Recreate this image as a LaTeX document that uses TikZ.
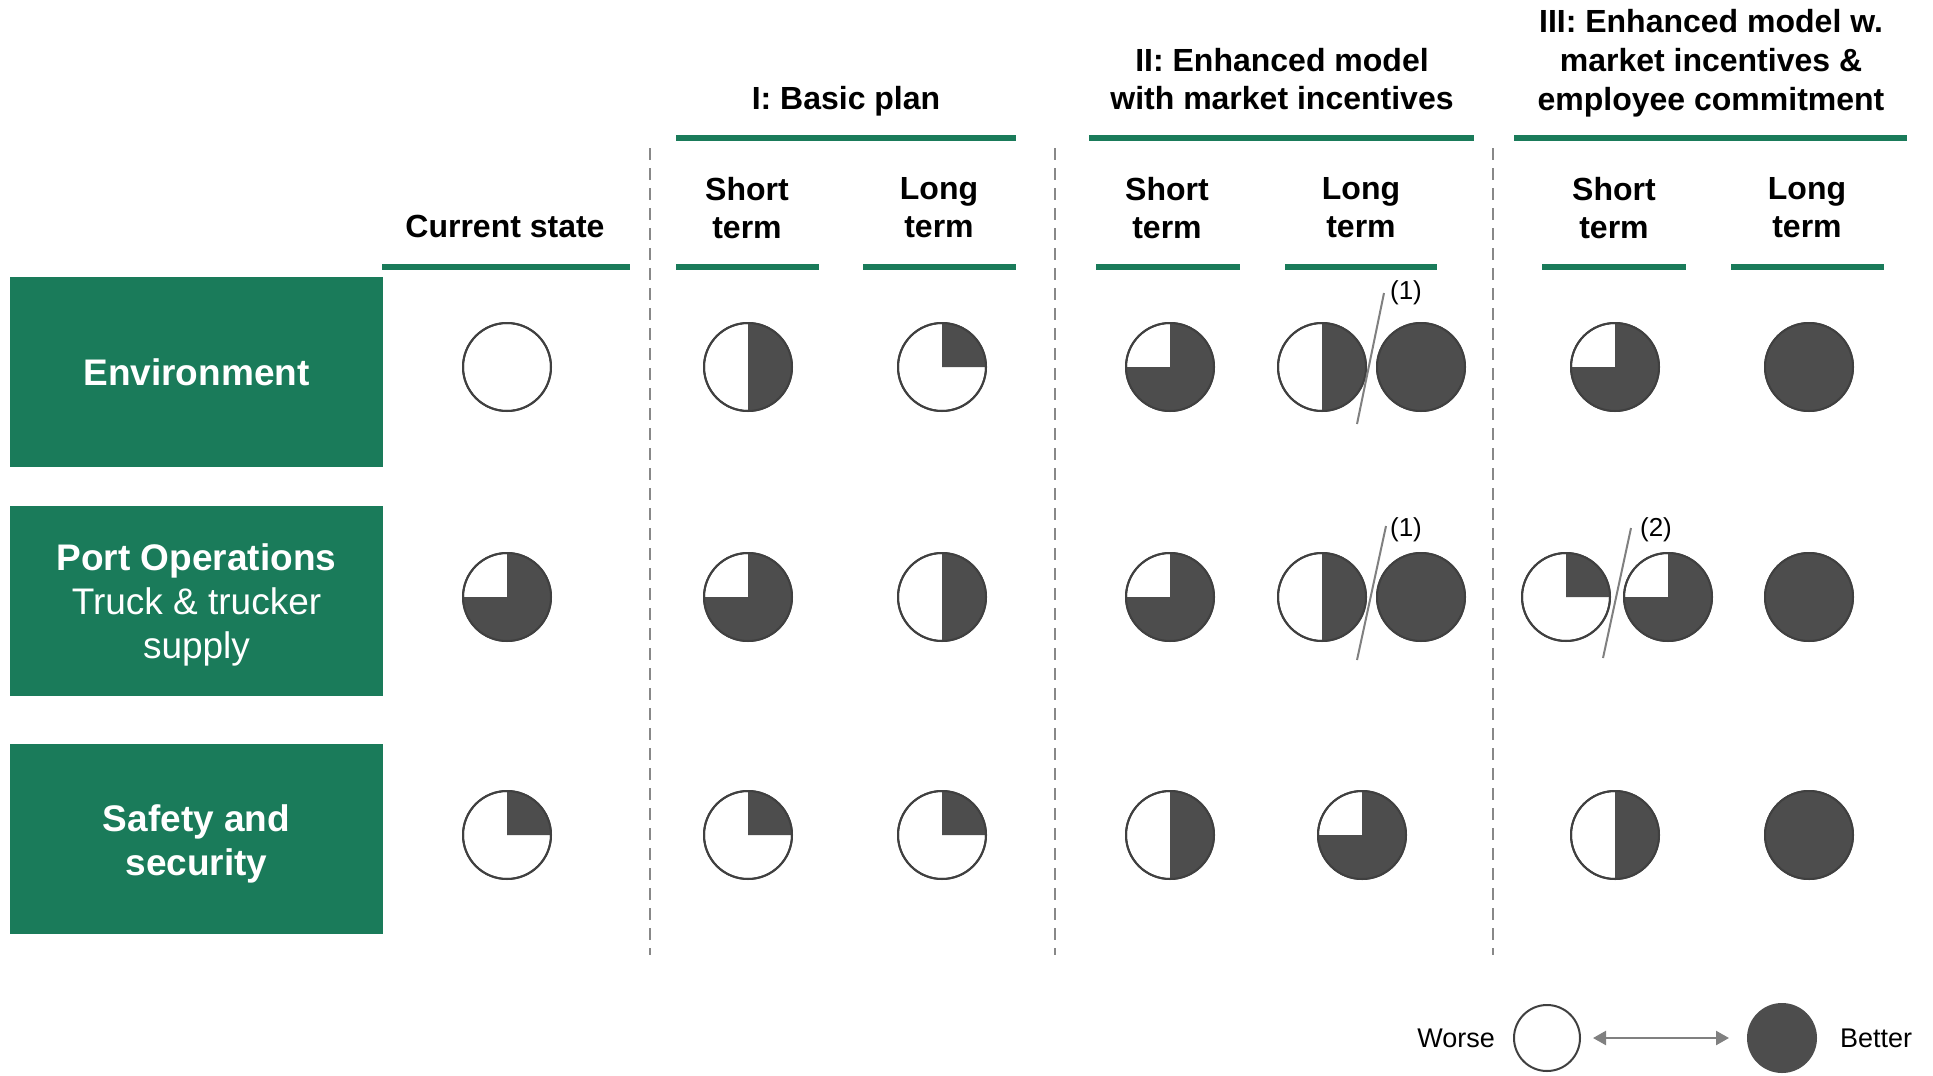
\documentclass[tikz,border=0pt]{standalone}
\usepackage{fontspec}
\setmainfont{Liberation Sans}
\usetikzlibrary{arrows.meta}
\definecolor{brandgreen}{RGB}{26,123,90}
\definecolor{piedark}{RGB}{77,77,77}
\definecolor{pieedge}{RGB}{64,64,64}
\definecolor{dashgray}{RGB}{136,136,136}
\definecolor{arrowgray}{RGB}{128,128,128}

\newcommand{\PieCell}[4]{%
  \node[pienode] (#1) at (#2,-#3) {};
  \ifnum#4>0
    \ifnum#4<360
      \fill[piedark] (#1.center) -- ++(0pt,22pt) arc[start angle=90, end angle=90-#4, radius=22pt] -- cycle;
    \else
      \fill[piedark] (#1.center) circle[radius=22pt];
    \fi
  \fi
  \draw[pieedge, line width=1pt] (#1.center) circle[radius=22pt];
}

\begin{document}
\begin{tikzpicture}[x=0.5pt,y=0.5pt,
  pienode/.style={circle, minimum size=44pt, inner sep=0pt, fill=white, draw=pieedge, line width=1pt},
  rowbox/.style={fill=brandgreen, minimum width=186.5pt, minimum height=95pt, inner sep=0pt, text=white, align=center, font=\fontsize{18.5pt}{22pt}\selectfont},
  hdr/.style={align=center, inner sep=0pt, font=\fontsize{16pt}{19pt}\selectfont\bfseries},
  gline/.style={brandgreen, line width=3pt},
  sep/.style={dashgray, line width=1pt, dash pattern=on 6pt off 4pt},
  slash/.style={arrowgray, line width=1pt},
  note/.style={inner sep=0pt, font=\fontsize{13pt}{15pt}\selectfont},
  legtext/.style={inner sep=0pt, font=\fontsize{13.5pt}{16pt}\selectfont}]
\useasboundingbox (0,0) rectangle (1933,-1076);

% row labels
\node[rowbox] (env) at (196.5,-372) {\bfseries Environment};
\node[rowbox] (port) at (196.5,-601) {};
\node[text=white, align=center, inner sep=0pt, font=\fontsize{18.5pt}{22pt}\selectfont] (portlbl) at (196.5,-605) {{\bfseries Port Operations}\\Truck \& trucker\\supply};
\node[rowbox] (safe) at (196.5,-839) {};
\node[text=white, align=center, inner sep=0pt, font=\fontsize{18.5pt}{22pt}\selectfont\bfseries] (safelbl) at (196.5,-844) {Safety and\\security};

% group headers
\node[hdr] (hI) at (846,-101.5) {I: Basic plan};
\node[hdr] (hII) at (1282,-79.5) {II: Enhanced model\\with market incentives};
\node[hdr, font=\fontsize{16pt}{19.4pt}\selectfont\bfseries] (hIII) at (1711,-63) {III: Enhanced model w.\\market incentives \&\\employee commitment};

% column headers
\node[hdr] (cs) at (505,-226) {Current state};
\node[hdr] (iS) at (747,-208) {Short\\term};
\node[hdr] (iL) at (939,-208) {Long\\term};
\node[hdr] (iiS) at (1167,-208) {Short\\term};
\node[hdr] (iiL) at (1361,-208) {Long\\term};
\node[hdr] (iiiS) at (1614,-208) {Short\\term};
\node[hdr] (iiiL) at (1807,-208) {Long\\term};

% green rules
\draw[gline] (676,-138) -- (1016,-138);
\draw[gline] (1089,-138) -- (1474,-138);
\draw[gline] (1514,-138) -- (1907,-138);
\draw[gline] (382,-267) -- (630,-267);
\draw[gline] (676,-267) -- (819,-267);
\draw[gline] (863,-267) -- (1016,-267);
\draw[gline] (1096,-267) -- (1240,-267);
\draw[gline] (1285,-267) -- (1437,-267);
\draw[gline] (1542,-267) -- (1686,-267);
\draw[gline] (1731,-267) -- (1884,-267);

% dashed separators
\draw[sep] (650,-148) -- (650,-955);
\draw[sep] (1055,-148) -- (1055,-955);
\draw[sep] (1493,-148) -- (1493,-955);

% row 1: Environment
\PieCell{a1}{507}{367}{0}
\PieCell{a2}{748}{367}{180}
\PieCell{a3}{942}{367}{90}
\PieCell{a4}{1170}{367}{270}
\PieCell{a5}{1322}{367}{180}
\PieCell{a6}{1421}{367}{360}
\PieCell{a7}{1615}{367}{270}
\PieCell{a8}{1809}{367}{360}
\coordinate (s1t) at (1384,-293);
\coordinate (s1b) at (1357,-424);
\draw[slash] (s1t) -- (s1b);
\node[note] (n1) at (1406,-293) {(1)};

% row 2: Port operations
\PieCell{b1}{507}{597}{270}
\PieCell{b2}{748}{597}{270}
\PieCell{b3}{942}{597}{180}
\PieCell{b4}{1170}{597}{270}
\PieCell{b5}{1322}{597}{180}
\PieCell{b6}{1421}{597}{360}
\PieCell{b7}{1566}{597}{90}
\PieCell{b8}{1668}{597}{270}
\PieCell{b9}{1809}{597}{360}
\coordinate (s2t) at (1386,-526);
\coordinate (s2b) at (1357,-660);
\draw[slash] (s2t) -- (s2b);
\node[note] (n2) at (1406,-530) {(1)};
\coordinate (s3t) at (1631,-528);
\coordinate (s3b) at (1603,-658);
\draw[slash] (s3t) -- (s3b);
\node[note] (n3) at (1656,-530) {(2)};

% row 3: Safety and security
\PieCell{c1}{507}{835}{90}
\PieCell{c2}{748}{835}{90}
\PieCell{c3}{942}{835}{90}
\PieCell{c4}{1170}{835}{180}
\PieCell{c5}{1362}{835}{270}
\PieCell{c6}{1615}{835}{180}
\PieCell{c7}{1809}{835}{360}

% legend
\node[legtext] (worse) at (1456,-1038) {Worse};
\node[circle, minimum size=33pt, inner sep=0pt, fill=white, draw=pieedge, line width=1pt] (lw) at (1547,-1038) {};
\node[circle, minimum size=34pt, inner sep=0pt, fill=piedark, draw=piedark, line width=1pt] (lb) at (1782,-1038) {};
\node[legtext] (better) at (1876,-1038) {Better};
\draw[arrowgray, line width=1.2pt, {Triangle[length=6.5pt,width=7pt]}-{Triangle[length=6.5pt,width=7pt]}, shorten <=6pt, shorten >=9pt] (lw) -- (lb);
\end{tikzpicture}
\end{document}
